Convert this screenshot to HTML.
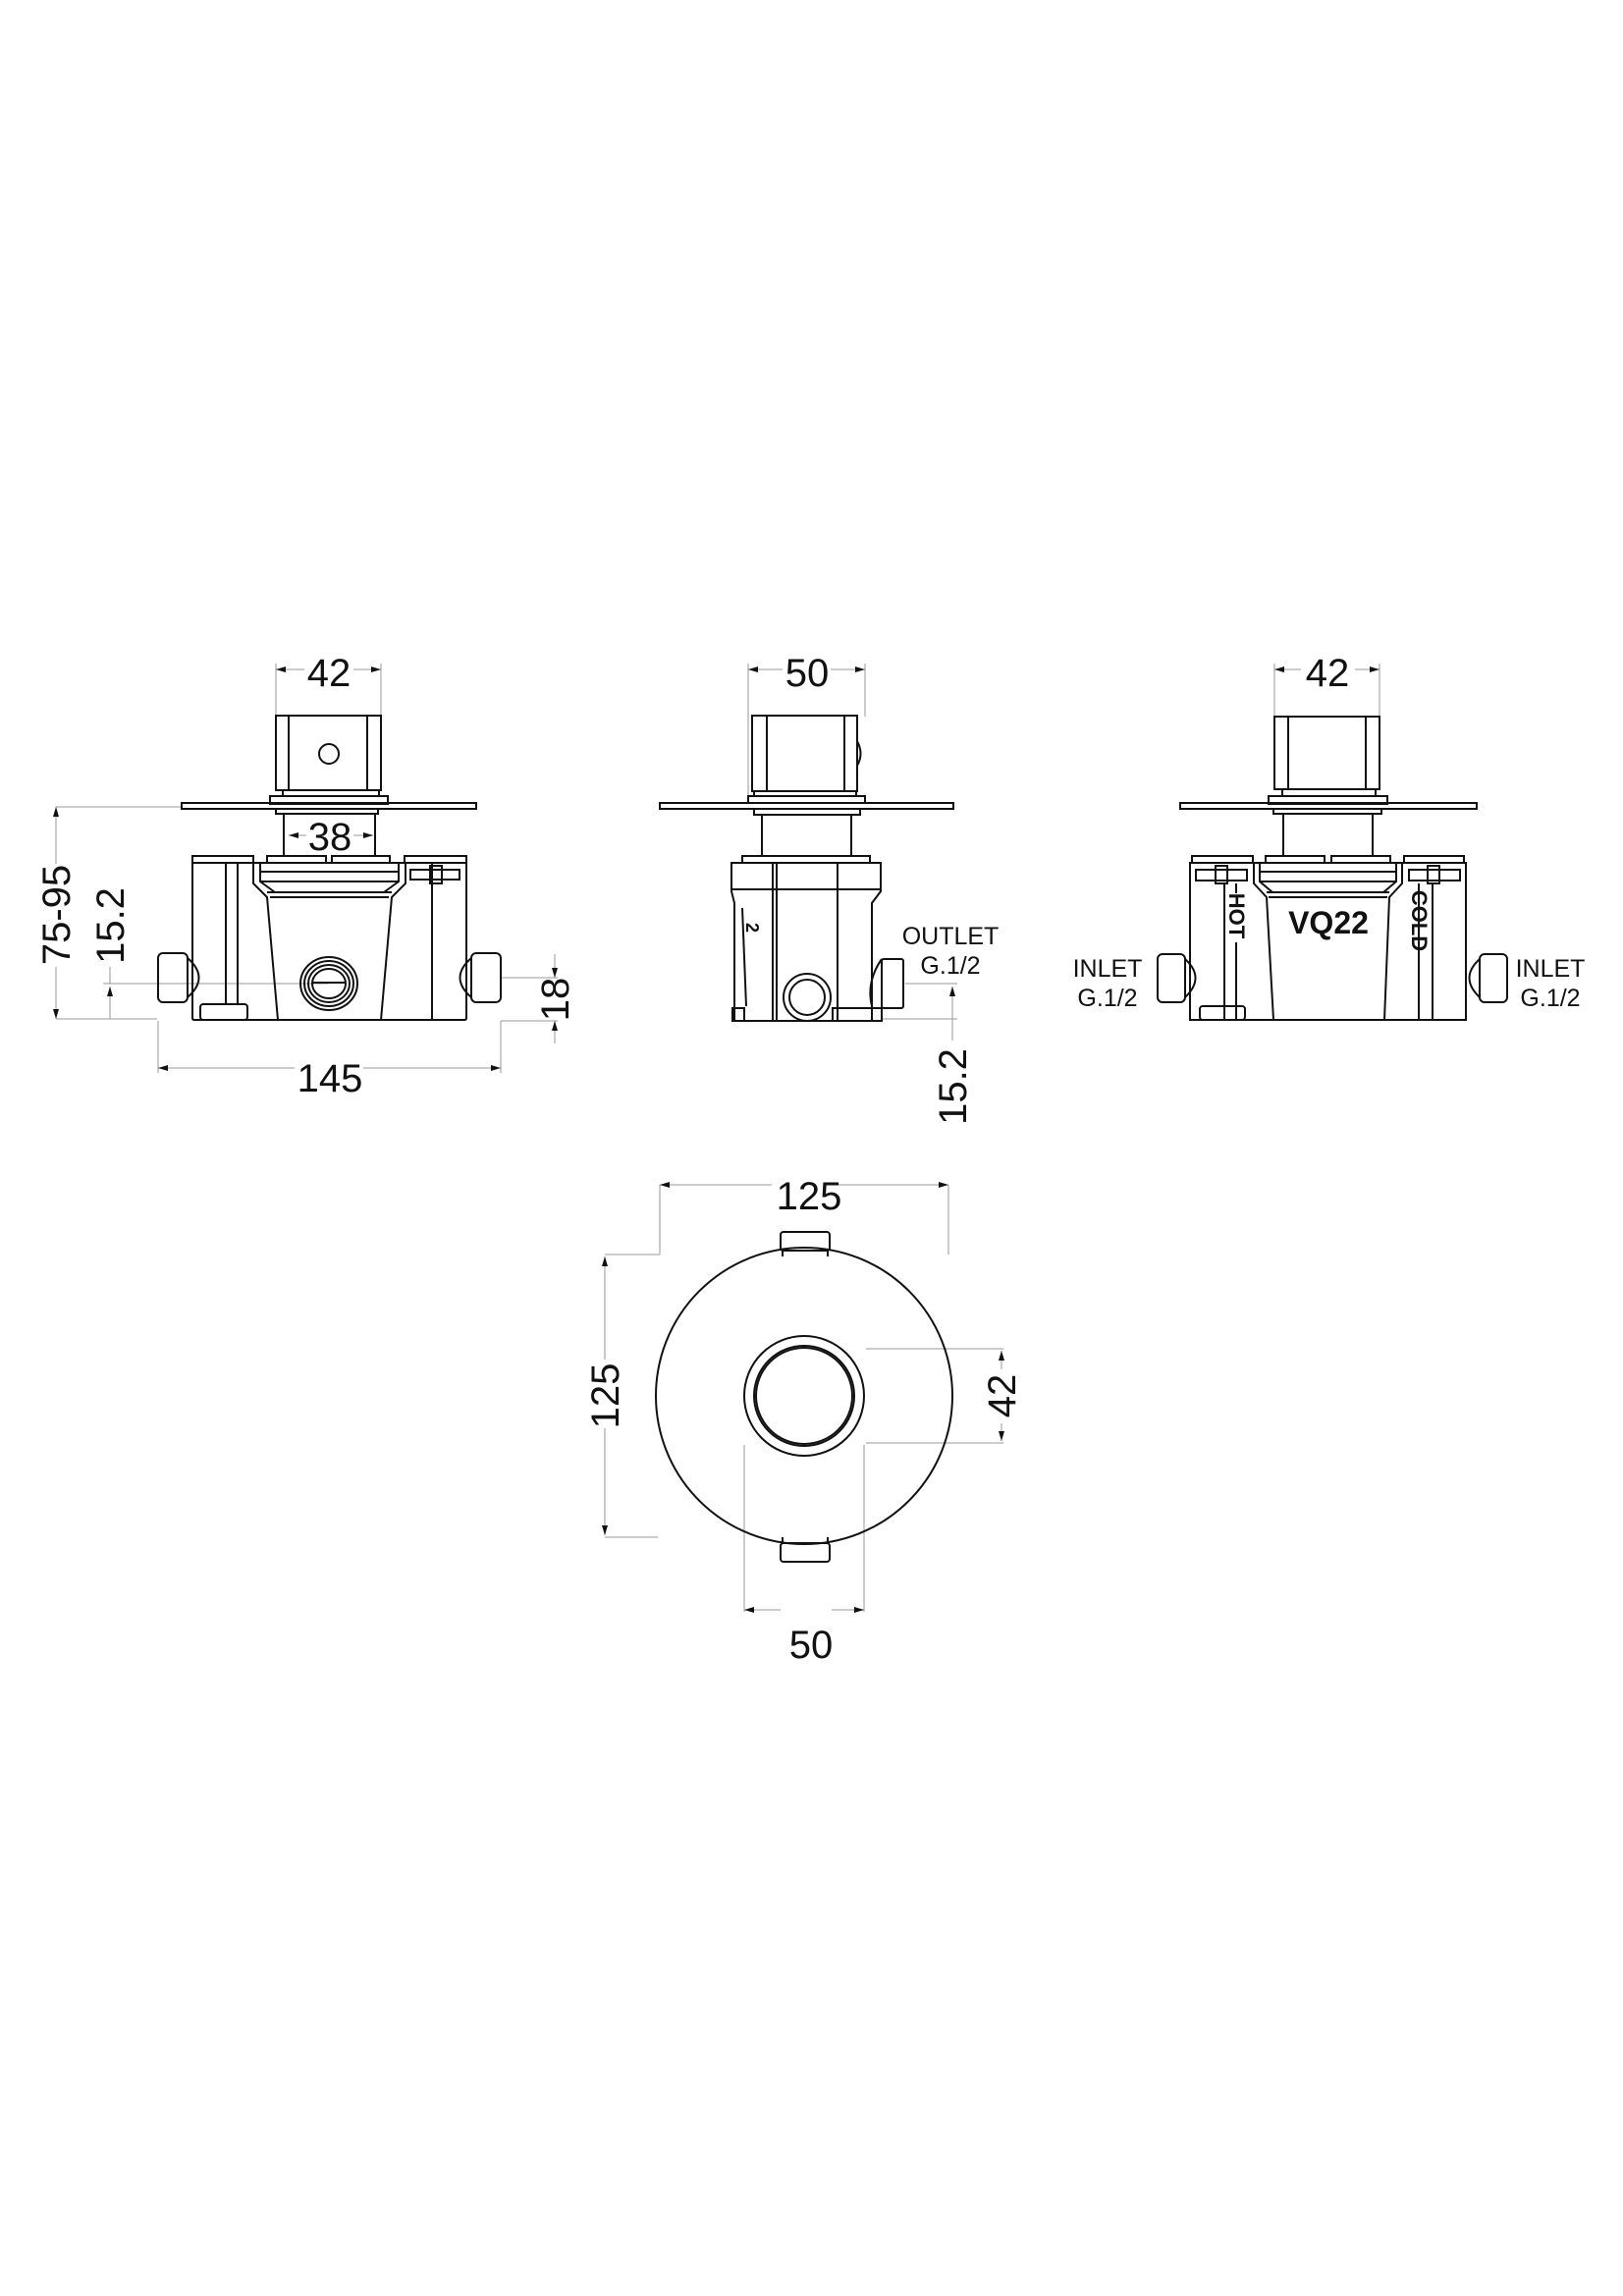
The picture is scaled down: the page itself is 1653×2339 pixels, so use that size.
<!DOCTYPE html>
<html><head><meta charset="utf-8"><style>
html,body{margin:0;padding:0;background:#fff;}
svg{display:block;}
text{font-family:"Liberation Sans",sans-serif;fill:#111;}
</style></head><body>
<svg width="1653" height="2339" viewBox="0 0 1653 2339" xmlns="http://www.w3.org/2000/svg">
<defs>
<marker id="a" viewBox="0 0 10 6" refX="10" refY="3" markerWidth="11" markerHeight="6" orient="auto-start-reverse" markerUnits="userSpaceOnUse"><path d="M0,0 L10,3 L0,6 Z" fill="#111"/></marker>
</defs>
<g fill="none" stroke="#999" stroke-width="1">
<!-- view1 dims -->
<line x1="281" y1="676" x2="281" y2="729"/><line x1="388" y1="676" x2="388" y2="729"/>
<line x1="281" y1="682" x2="310" y2="682" marker-start="url(#a)"/><line x1="360" y1="682" x2="388" y2="682" marker-end="url(#a)"/>
<line x1="294" y1="851" x2="312" y2="851" marker-start="url(#a)"/><line x1="360" y1="851" x2="380" y2="851" marker-end="url(#a)"/>
<line x1="57" y1="822" x2="185" y2="822"/><line x1="57" y1="1038" x2="160" y2="1038"/>
<line x1="57" y1="822" x2="57" y2="880" marker-start="url(#a)"/><line x1="57" y1="985" x2="57" y2="1038" marker-end="url(#a)"/>
<line x1="105" y1="1002" x2="335" y2="1002"/>
<line x1="112" y1="985" x2="112" y2="1002"/><line x1="112" y1="1005" x2="112" y2="1038" marker-start="url(#a)"/>
<line x1="511" y1="996" x2="568" y2="996"/><line x1="510" y1="1040" x2="568" y2="1040"/>
<line x1="565" y1="972" x2="565" y2="996" marker-end="url(#a)"/><line x1="565" y1="1040" x2="565" y2="1063" marker-start="url(#a)"/>
<line x1="161" y1="1040" x2="161" y2="1093"/><line x1="510" y1="1040" x2="510" y2="1093"/>
<line x1="161" y1="1088" x2="300" y2="1088" marker-start="url(#a)"/><line x1="370" y1="1088" x2="510" y2="1088" marker-end="url(#a)"/>
<!-- view2 dims -->
<line x1="762" y1="676" x2="762" y2="812"/><line x1="881" y1="676" x2="881" y2="730"/>
<line x1="762" y1="682" x2="797" y2="682" marker-start="url(#a)"/><line x1="846" y1="682" x2="881" y2="682" marker-end="url(#a)"/>
<line x1="922" y1="1002" x2="975" y2="1002"/><line x1="898" y1="1038" x2="975" y2="1038"/>
<line x1="970" y1="1005" x2="970" y2="1038" marker-start="url(#a)"/><line x1="970" y1="1038" x2="970" y2="1060"/>
<!-- view3 dims -->
<line x1="1298" y1="676" x2="1298" y2="730"/><line x1="1405" y1="676" x2="1405" y2="730"/>
<line x1="1298" y1="682" x2="1325" y2="682" marker-start="url(#a)"/><line x1="1380" y1="682" x2="1405" y2="682" marker-end="url(#a)"/>
<!-- view4 dims -->
<line x1="672" y1="1207" x2="672" y2="1278"/><line x1="966" y1="1207" x2="966" y2="1278"/>
<line x1="672" y1="1207" x2="786" y2="1207" marker-start="url(#a)"/><line x1="852" y1="1207" x2="966" y2="1207" marker-end="url(#a)"/>
<line x1="616" y1="1278" x2="672" y2="1278"/><line x1="616" y1="1566" x2="670" y2="1566"/>
<line x1="616" y1="1280" x2="616" y2="1385" marker-start="url(#a)"/><line x1="616" y1="1455" x2="616" y2="1564" marker-end="url(#a)"/>
<line x1="882" y1="1374" x2="1022" y2="1374"/><line x1="882" y1="1470" x2="1022" y2="1470"/>
<line x1="1020" y1="1376" x2="1020" y2="1395" marker-start="url(#a)"/><line x1="1020" y1="1450" x2="1020" y2="1468" marker-end="url(#a)"/>
<line x1="758" y1="1472" x2="758" y2="1642"/><line x1="880" y1="1472" x2="880" y2="1642"/>
<line x1="758" y1="1640" x2="795" y2="1640" marker-start="url(#a)"/><line x1="847" y1="1640" x2="880" y2="1640" marker-end="url(#a)"/>
</g>
<g font-size="40" text-anchor="middle">
<text x="335" y="699">42</text>
<text x="336" y="866">38</text>
<text x="336" y="1112">145</text>
<text transform="translate(71,932) rotate(-90)">75-95</text>
<text transform="translate(126,943) rotate(-90)">15.2</text>
<text transform="translate(579,1018) rotate(-90)">18</text>
<text x="822" y="699">50</text>
<text transform="translate(984,1107) rotate(-90)">15.2</text>
<text x="1352" y="699">42</text>
<text x="824" y="1232">125</text>
<text transform="translate(630,1422) rotate(-90)">125</text>
<text transform="translate(1034,1422) rotate(-90)">42</text>
<text x="826" y="1689">50</text>
</g>
<g font-size="25" text-anchor="middle">
<text x="968" y="962">OUTLET</text><text x="968" y="992">G.1/2</text>
<text x="1128" y="995">INLET</text><text x="1128" y="1025">G.1/2</text>
<text x="1579" y="995">INLET</text><text x="1579" y="1025">G.1/2</text>
</g>
<g font-weight="bold" text-anchor="middle" style="font-family:'Liberation Sans Narrow','Liberation Sans',sans-serif">
<text x="1353" y="951" font-size="32">VQ22</text>
<text transform="translate(1252,933) rotate(90)" font-size="22">HOT</text>
<text transform="translate(1438,938) rotate(90)" font-size="22">COLD</text>
<text transform="translate(760,945) rotate(90)" font-size="18">2</text>
</g>
<g fill="none" stroke="#111" stroke-width="2">
<!-- view 1 -->
<rect x="281" y="729" width="107" height="76"/><line x1="294" y1="730" x2="294" y2="805"/><line x1="374" y1="730" x2="374" y2="805"/>
<circle cx="335" cy="768" r="10"/>
<rect x="288" y="805" width="98" height="6"/><rect x="275" y="811" width="120" height="8"/>
<rect x="185" y="818" width="300" height="6"/><rect x="281" y="824" width="104" height="5"/>
<line x1="289" y1="829" x2="289" y2="872"/><line x1="382" y1="829" x2="382" y2="872"/>
<rect x="196" y="872" width="62" height="7"/><rect x="412" y="872" width="63" height="7"/>
<rect x="272" y="872" width="60" height="7"/><rect x="338" y="872" width="59" height="7"/>
<path d="M196,879 H475 V1037 Q475,1039 473,1039 H198 Q196,1039 196,1037 Z"/>
<path d="M258,879 V900 L272,914 L283,1039"/><path d="M413,879 V900 L399,914 L388,1039"/>
<path d="M265,879 V898 L280,909"/><path d="M406,879 V898 L391,909"/>
<line x1="266" y1="888" x2="405" y2="888"/><line x1="266" y1="898" x2="405" y2="898"/><line x1="272" y1="909" x2="399" y2="909"/><line x1="275" y1="914" x2="396" y2="914"/>
<line x1="230" y1="879" x2="230" y2="1023"/><line x1="242" y1="879" x2="242" y2="1023"/>
<line x1="440" y1="879" x2="440" y2="1039"/>
<rect x="418" y="886" width="50" height="10"/><rect x="438" y="882" width="12" height="18"/>
<rect x="204" y="1023" width="48" height="16" rx="3"/>
<ellipse cx="335" cy="1002" rx="29" ry="27"/><ellipse cx="335" cy="1002" rx="25" ry="23"/><ellipse cx="335" cy="1002" rx="21" ry="19"/><ellipse cx="335" cy="1002" rx="17" ry="15"/>
<line x1="319" y1="1001" x2="351" y2="1001"/>
<rect x="161" y="971" width="30" height="50" rx="5"/><path d="M191,976 Q214,996 191,1016"/>
<rect x="480" y="971" width="30" height="50" rx="5"/><path d="M480,976 Q457,996 480,1016"/>
<!-- view 2 -->
<rect x="766" y="729" width="107" height="77"/><line x1="781" y1="730" x2="781" y2="806"/><line x1="860" y1="730" x2="860" y2="806"/>
<path d="M873,755 Q880,768 873,780"/>
<rect x="768" y="806" width="104" height="5"/><rect x="762" y="811" width="119" height="7"/>
<rect x="672" y="818" width="299" height="6"/><rect x="768" y="824" width="108" height="6"/>
<line x1="776" y1="830" x2="776" y2="872"/><line x1="867" y1="830" x2="867" y2="872"/>
<rect x="756" y="872" width="130" height="7"/>
<path d="M745,879 H897 V908 L888,920 V1040 H748 V920 L745,908 Z"/>
<line x1="745" y1="906" x2="897" y2="906"/>
<line x1="787" y1="879" x2="787" y2="1040"/><line x1="791" y1="879" x2="791" y2="1040"/><line x1="853" y1="879" x2="853" y2="1040"/>
<line x1="756" y1="925" x2="760" y2="1025"/>
<rect x="746" y="1027" width="12" height="13"/><rect x="848" y="1027" width="50" height="13"/>
<circle cx="822" cy="1016" r="24"/><circle cx="822" cy="1016" r="18"/>
<rect x="898" y="977" width="22" height="50" rx="2"/><path d="M898,977 Q882,1000 888,1025"/>
<!-- view 3 -->
<rect x="1298" y="730" width="107" height="74"/><line x1="1312" y1="731" x2="1312" y2="804"/><line x1="1391" y1="731" x2="1391" y2="804"/>
<rect x="1306" y="804" width="95" height="7"/><rect x="1292" y="811" width="121" height="8"/>
<rect x="1202" y="818" width="302" height="6"/><rect x="1297" y="824" width="110" height="5"/>
<line x1="1307" y1="829" x2="1307" y2="872"/><line x1="1398" y1="829" x2="1398" y2="872"/>
<rect x="1214" y="872" width="62" height="7"/><rect x="1430" y="872" width="61" height="7"/>
<rect x="1289" y="872" width="60" height="7"/><rect x="1356" y="872" width="60" height="7"/>
<path d="M1212,879 H1493 V1039 H1212 Z"/>
<path d="M1277,879 V900 L1290,914 L1297,1039"/><path d="M1428,879 V900 L1415,914 L1410,1039"/>
<path d="M1283,879 V898 L1296,909"/><path d="M1422,879 V898 L1409,909"/>
<line x1="1283" y1="888" x2="1422" y2="888"/><line x1="1283" y1="898" x2="1422" y2="898"/><line x1="1290" y1="909" x2="1415" y2="909"/><line x1="1292" y1="914" x2="1413" y2="914"/>
<rect x="1218" y="886" width="52" height="11"/><rect x="1238" y="882" width="12" height="18"/>
<rect x="1435" y="886" width="52" height="11"/><rect x="1454" y="882" width="12" height="18"/>
<line x1="1247" y1="900" x2="1247" y2="1039"/><line x1="1259" y1="900" x2="1259" y2="910"/><line x1="1259" y1="960" x2="1259" y2="1039"/>
<line x1="1445" y1="900" x2="1445" y2="1039"/><line x1="1459" y1="900" x2="1459" y2="1039"/>
<rect x="1222" y="1025" width="46" height="14" rx="3"/>
<rect x="1179" y="972" width="28" height="49" rx="5"/><path d="M1207,977 Q1228,996 1207,1016"/>
<rect x="1507" y="972" width="28" height="49" rx="5"/><path d="M1507,977 Q1486,996 1507,1016"/>
<!-- view 4 -->
<circle cx="819" cy="1422" r="151"/>
<circle cx="819" cy="1422" r="61"/><circle cx="819" cy="1422" r="51"/><circle cx="819" cy="1422" r="49"/>
<rect x="795" y="1255" width="50" height="19" rx="3"/><line x1="797" y1="1274" x2="797" y2="1280"/><line x1="843" y1="1274" x2="843" y2="1280"/>
<rect x="795" y="1572" width="50" height="19" rx="3"/><line x1="797" y1="1566" x2="797" y2="1572"/><line x1="843" y1="1566" x2="843" y2="1572"/>
</g>
</svg>
</body></html>
